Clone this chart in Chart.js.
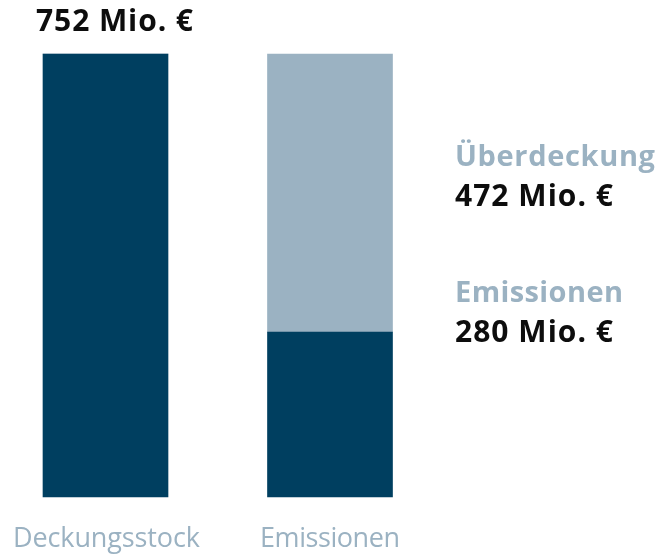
<!DOCTYPE html>
<html>
<head>
<meta charset="utf-8">
<script src="https://cdn.jsdelivr.net/npm/chart.js@4"></script>
<style>
  html, body { margin: 0; padding: 0; background: #ffffff; }
  #wrap { width: 660px; height: 558px; position: relative; }
</style>
</head>
<body>
<div id="wrap"><canvas id="c" width="660" height="558"></canvas></div>
<script>
// ---- data ----
const categories = ["Deckungsstock", "Emissionen"];
const baseValues = [752, 280];          // dark segment
const overValues = [0, 472];            // light segment (Überdeckung)
const totalLabel = "752 Mio. €";
const sideTitles = ["Überdeckung", "Emissionen"];
const sideValues = ["472 Mio. €", "280 Mio. €"];

const DARK = "#003f60";
const LIGHT = "#9bb2c2";
const TEXT = "#0d0d0d";
const FONT = "'Open Sans', Lato, sans-serif";

// draw text adjusted (via letter spacing) to a target width
function fitText(ctx, text, x, y, target, align) {
  ctx.letterSpacing = "0px";
  const w = ctx.measureText(text).width;
  const n = Array.from(text).length;
  const sp = (target - w) / Math.max(1, n - 1);
  ctx.letterSpacing = sp + "px";
  let left = x;
  if (align === "center") left = x - target / 2;
  ctx.textAlign = "left";
  ctx.fillText(text, left, y);
  ctx.letterSpacing = "0px";
}

const labelPlugin = {
  id: "labels",
  afterDraw(chart) {
    const ctx = chart.ctx;
    const xs = chart.scales.x;
    ctx.save();
    ctx.textBaseline = "alphabetic";
    // category labels
    ctx.fillStyle = LIGHT;
    ctx.font = "400 27px " + FONT;
    const catW = [187, 140];
    categories.forEach((c, i) => {
      fitText(ctx, c, xs.getPixelForTick(i) + (i === 0 ? 1 : 0), 547, catW[i], "center");
    });
    // total label above first bar
    ctx.fillStyle = TEXT;
    ctx.font = "700 30px " + FONT;
    fitText(ctx, totalLabel, 36, 31, 157);
    // side labels
    const ys = [[166, 206], [302, 342]];
    const tW = [200, 168];
    sideTitles.forEach((t, i) => {
      ctx.fillStyle = LIGHT;
      ctx.font = "700 29px " + FONT;
      fitText(ctx, t, 455, ys[i][0], tW[i]);
      ctx.fillStyle = TEXT;
      ctx.font = "700 30px " + FONT;
      fitText(ctx, sideValues[i], 455, ys[i][1], 158);
    });
    ctx.restore();
  }
};

new Chart(document.getElementById("c"), {
  type: "bar",
  data: {
    labels: categories,
    datasets: [
      { data: baseValues, backgroundColor: DARK, barThickness: 125, clip: false, borderWidth: 0 },
      { data: overValues, backgroundColor: LIGHT, barThickness: 125, clip: false, borderWidth: 0 }
    ]
  },
  options: {
    responsive: false,
    animation: false,
    devicePixelRatio: 1,
    layout: { padding: { left: 105.5, right: 330, top: 54, bottom: 61 } },
    plugins: { legend: { display: false }, tooltip: { enabled: false } },
    scales: {
      x: { display: false, stacked: true, offset: false },
      y: { display: false, stacked: true, min: 0, max: 752 }
    }
  },
  plugins: [labelPlugin]
});
</script>
</body>
</html>
